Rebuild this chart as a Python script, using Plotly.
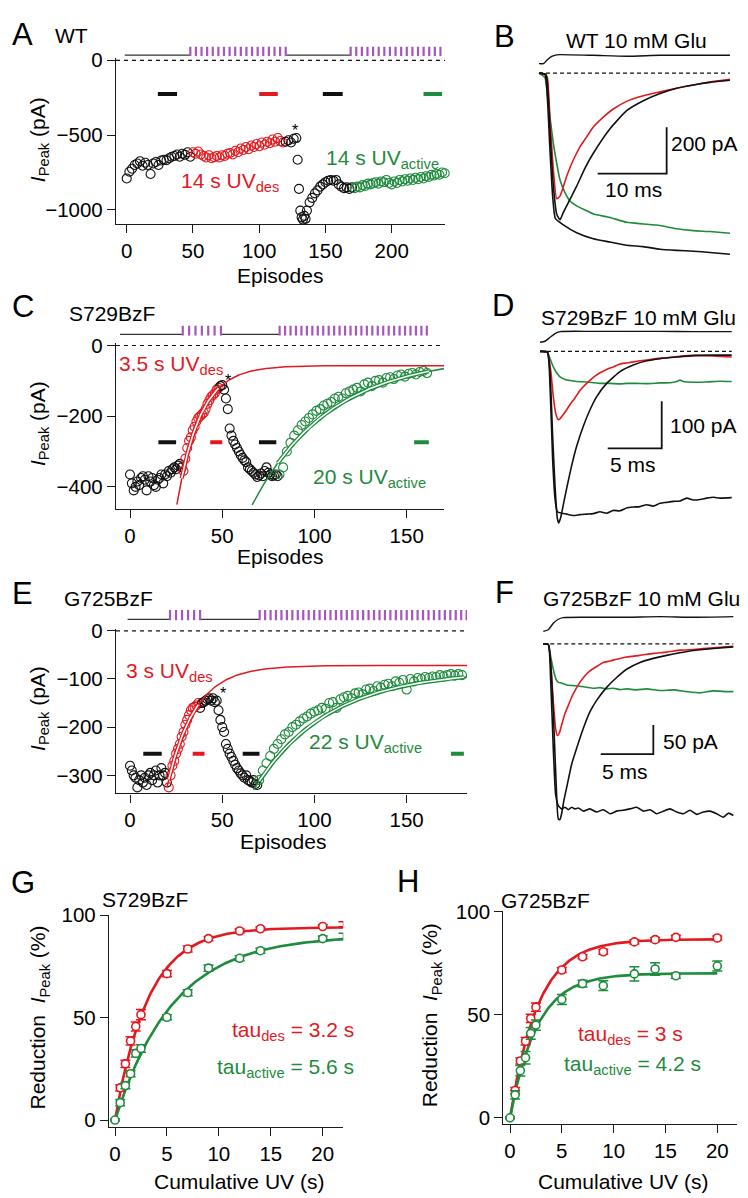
import numpy as np
import plotly.graph_objects as go

W, H = 748, 1198
FONT = "Liberation Sans, Arial, Helvetica, sans-serif"
RED = "#E3191F"
GREEN = "#1E8B3D"
PURPLE = "#A457BD"
BLK = "#111111"
AXC = "#1a1a1a"
COLMAP = {"k": BLK, "r": RED, "g": GREEN}

# ======================= DATA =======================
# ---- Panel A (WT): peak current per episode (pA)
a_black1_ep = list(range(0, 50, 2))
a_black1 = [-790, -745, -725, -700, -690, -675, -705, -685, -700, -760, -690, -680, -700,
            -670, -665, -668, -655, -645, -640, -630, -645, -625, -632, -615, -645]
a_red_ep = list(range(50, 120, 2))
a_red = [-615, -625, -610, -630, -640, -650, -635, -655, -648, -640,
         -650, -635, -640, -625, -620, -630, -605, -615, -590, -600,
         -580, -595, -570, -580, -560, -575, -550, -565, -545, -555,
         -530, -545, -520, -540, -550]
a_black2_ep = [120, 122, 124, 126, 128, 129, 130, 131, 132, 133, 134, 135, 136] + list(range(138, 172, 2))
a_black2 = [-545, -535, -550, -525, -520, -665, -860, -1005, -1050, -1065, -1040, -1060, -1005,
            -950, -920, -890, -870, -845, -830, -815, -805, -800, -805, -800, -830, -845, -855,
            -850, -860, -850]
a_green_ep = list(range(172, 242, 2))
a_green = [-855, -845, -850, -835, -840, -825, -830, -820, -815, -825,
           -810, -815, -800, -820, -830, -810, -820, -800, -810, -795,
           -805, -790, -800, -785, -795, -780, -790, -775, -780, -765,
           -770, -760, -765, -750, -755]
a_uv_start = -1.5
a_uv_blocks = [(48, 120, 18), (169, 241, 18)]
a_windows = [(23.5, 38, "k"), (100, 114, "r"), (148, 163, "k"), (224, 238, "g")]
a_window_level = -225

# ---- Panel C (S729BzF)
c_black1_ep = list(range(0, 29))
c_black1 = [-365, -390, -410, -400, -385, -395, -375, -370, -380, -410,
            -370, -385, -375, -395, -400, -380, -375, -365, -390, -365,
            -370, -355, -360, -350, -345, -350, -340, -335, -345]
c_red_ep = list(range(29, 49))
c_red = [-355, -320, -290, -270, -260, -240, -230, -215, -205, -200,
         -195, -190, -180, -165, -155, -145, -140, -135, -125, -120]
c_black2_ep = list(range(49, 81))
c_black2 = [-115, -112, -125, -150, -180, -235, -255, -270, -280, -290,
            -300, -310, -318, -325, -330, -345, -350, -355, -360, -365,
            -372, -368, -362, -370, -355, -345, -360, -365, -370, -368,
            -365, -370]
c_green_ep = list(range(81, 162, 2))
c_green = [-365, -345, -300, -275, -255, -240, -225, -215, -205, -195,
           -185, -180, -170, -165, -160, -150, -145, -150, -135, -130,
           -125, -120, -130, -110, -105, -115, -100, -98, -105, -92,
           -90, -95, -85, -82, -88, -80, -78, -82, -75, -72, -78]
c_uv_start = -5.4
c_uv_blocks = [(28.6, 49.3, 7), (81.1, 160.9, 28)]
c_windows = [(15.4, 25, "k"), (43.5, 50, "r"), (69.9, 79.3, "k"), (154, 162, "g")]
c_window_level = -274
# exponential fits: (x0, y0, plateau, tau, x_end, tube_from, tube_to)
c_fit_des = (25.4, -450, -57, 12.45, 171, 28, 48)
c_fit_act = (66.2, -451, -30, 42.0, 171, 80, 162)

# ---- Panel E (G725BzF)
e_black1_ep = list(range(0, 21))
e_black1 = [-280, -290, -300, -305, -325, -310, -300, -315, -305, -320,
            -300, -295, -310, -300, -290, -315, -300, -285, -300, -295, -315]
e_red_ep = list(range(21, 38))
e_red = [-325, -300, -280, -270, -255, -245, -235, -220, -210, -195,
         -185, -175, -165, -160, -158, -155, -150]
e_black2_ep = list(range(38, 70))
e_black2 = [-160, -150, -148, -145, -142, -140, -145, -140, -148, -145,
            -165, -185, -200, -210, -235, -245, -255, -262, -270, -278,
            -285, -290, -296, -300, -305, -300, -310, -312, -315, -310,
            -318, -320]
e_green_ep = list(range(70, 181, 2))
e_green = [-310, -290, -275, -260, -245, -235, -225, -215, -210, -200,
           -195, -188, -182, -178, -172, -168, -165, -160, -162, -150,
           -148, -160, -142, -138, -135, -140, -130, -128, -132, -122,
           -120, -125, -115, -118, -112, -110, -115, -105, -108, -102,
           -122, -100, -105, -98, -100, -96, -98, -95, -96, -92,
           -95, -92, -90, -93, -90, -92]
e_uv_start = -1.3
e_uv_blocks = [(21.7, 38, 6), (70.3, 182.5, 39)]
e_windows = [(7.2, 17.2, "k"), (34, 40.4, "r"), (61.1, 70.2, "k"), (174, 181, "g")]
e_window_level = -255
e_fit_des = (20, -325, -72, 15.0, 183, 21, 37)
e_fit_act = (67, -330, -82, 40.0, 183, 70, 181)

# ---- Panel B traces (WT), time in ms, current in pA
b_exch_t = [0, 0.63, 1.21, 1.84, 2.56, 3.04, 7.87, 12.7, 17.54, 22.37, 27.68]
b_exch = [41, 41, 58, 72, 79, 80, 77, 73, 77, 77, 77]
b_des_t = [0, 1.01, 1.35, 1.69, 2.08, 2.56, 3.04, 3.53, 4.49, 5.46, 6.67, 7.87, 10.29, 12.7,
           15.12, 17.54, 19.95, 22.37, 24.78, 27.68]
b_des = [0, -6, -105, -303, -488, -608, -633, -601, -545, -488, -410, -346, -240, -162,
         -119, -88, -65, -51, -40, -31]
b_non_t = [0, 0.87, 1.21, 1.59, 1.98, 2.37, 3.53, 5.46, 7.87, 10.29, 12.7, 15.12, 17.54,
           19.95, 22.37, 24.78, 27.68]
b_non = [0, -6, -105, -332, -531, -627, -655, -689, -715, -729, -743, -749, -760,
         -765, -769, -774, -782]
b_red_t = [0, 0.87, 1.21, 1.6, 2.08, 2.56, 3.04, 4.01, 4.98, 5.94, 6.91, 7.87, 9.32, 10.77,
           12.7, 15.12, 17.54, 19.95, 22.37, 24.78, 27.68]
b_red = [0, -6, -20, -204, -417, -542, -531, -445, -374, -318, -275, -233, -190, -155,
         -122, -98, -81, -65, -51, -38, -27]
b_grn_t = [0, 0.87, 1.21, 1.59, 2.08, 2.56, 3.04, 3.77, 4.49, 5.46, 6.91, 7.87, 10.29, 12.7,
           15.12, 17.54, 19.95, 22.37, 24.78, 27.68]
b_grn = [0, -20, -91, -190, -303, -389, -460, -516, -552, -573, -594, -608, -623, -644,
         -651, -658, -672, -680, -684, -691]
b_scale = (18.5, -434, 10, 200)   # corner t, corner I, ms, pA

# ---- Panel D traces (S729BzF)
d_exch_t = [0, 0.46, 0.93, 1.39, 1.85, 4.94, 8.02, 11.11, 14.2, 17.75]
d_exch = [19.5, 21.6, 30, 38, 42, 42.6, 42.6, 42.6, 42, 42]
d_des_t = [0, 0.68, 0.93, 1.17, 1.39, 1.6, 1.73, 1.91, 2.16, 2.47, 2.93, 3.4, 4.01, 4.63,
           5.25, 6.17, 7.41, 8.64, 9.88, 11.11, 12.65, 14.2, 16.05, 17.75]
d_des = [0, -1.5, -47, -180, -285, -354, -365, -354, -326, -291, -243, -201, -159, -124,
         -96, -68, -43, -29, -20, -15.5, -12, -9, -8, -8]
d_non_t = [0, 0.68, 0.93, 1.17, 1.39, 1.6, 2.01, 2.47, 3.09, 3.7, 4.32, 4.94, 5.56, 6.17,
           6.79, 7.41, 8.02, 8.64, 9.26, 9.88, 10.49, 11.11, 11.73, 12.35, 12.96, 13.58,
           14.2, 14.81, 15.43, 16.05, 16.67, 17.75]
d_non = [0, -1.5, -75, -229, -313, -341, -344, -346, -349, -347, -346, -345, -341, -344,
         -338, -339, -333, -331, -330, -326, -329, -323, -321, -319, -318, -312,
         -316, -315, -312, -310, -312, -311]
d_red_t = [0, 0.68, 0.99, 1.23, 1.48, 1.7, 1.85, 2.16, 2.47, 2.78, 3.24, 3.7, 4.32, 4.94,
           5.56, 6.17, 6.79, 7.41, 8.02, 9.26, 10.49, 11.73, 12.96, 14.2, 15.43, 16.67, 17.75]
d_red = [0, -1.5, -40, -96, -134, -145, -143.5, -134, -124, -113, -99, -83, -68, -55,
         -45.5, -38.5, -33, -27, -24.5, -20, -16, -13.4, -10.5, -8.5, -9, -10.5, -12]
d_grn_t = [0, 0.68, 0.93, 1.23, 1.54, 1.85, 2.32, 2.78, 3.4, 4.32, 4.94, 5.56, 6.48, 7.41,
           8.02, 8.95, 9.88, 11.11, 12.04, 12.65, 12.96, 13.27, 14.2, 15.43, 16.67, 17.75]
d_grn = [0, -1.5, -15.5, -33, -45.5, -54, -59.5, -62, -64, -65, -66.5, -68, -68, -69,
         -68, -68, -68.5, -67, -66.5, -64, -61, -64, -65.5, -65, -63.5, -64]
d_scale = (11.27, -206, 5, 100)

# ---- Panel F traces (G725BzF)
f_exch_t = [0, 0.475, 0.95, 1.43, 1.9, 4.75, 7.92, 11.09, 14.26, 18.06]
f_exch = [21.5, 24.4, 35.7, 42.5, 45.3, 45.9, 45.9, 47, 45.9, 47]
f_des_t = [0, 0.475, 0.697, 0.95, 1.2, 1.43, 1.58, 1.74, 1.96, 2.22, 2.69, 3.17, 3.8, 4.44,
           5.07, 6.02, 6.97, 7.92, 9.19, 10.46, 11.72, 12.99, 14.26, 16.16, 18.06]
f_des = [0, -1, -32, -117, -231, -302, -303, -293, -270, -248, -208, -180, -146, -117,
         -97.5, -75, -58, -43.7, -32, -25, -19.8, -15.3, -11.3, -7.9, -5.1]
f_non_t = [0, 0.475, 0.697, 0.95, 1.17, 1.43, 1.74, 2.06, 2.38, 2.69, 3.01, 3.33, 3.8, 4.44,
           5.07, 5.7, 6.34, 6.97, 7.6, 8.24, 8.87, 9.51, 10.14, 10.78, 11.41, 12.04, 12.68,
           13.31, 13.94, 14.58, 15.21, 15.84, 16.48, 17.11, 17.59, 18.06]
f_non = [0, -1, -60.7, -180, -259, -279, -284.6, -281.7, -286, -281.7, -284.6, -283, -288.5,
         -284.6, -290, -286, -293, -288.5, -287, -284.6, -281.7, -288.5, -286, -293, -288.5,
         -284.6, -290, -293, -287, -294, -290, -288.5, -293, -299, -292, -296]
f_red_t = [0, 0.475, 0.697, 0.95, 1.17, 1.33, 1.52, 1.74, 2.06, 2.38, 2.69, 3.01, 3.49, 3.96,
           4.44, 5.07, 5.7, 6.34, 6.97, 7.92, 9.19, 10.46, 11.72, 12.99, 14.26, 16.16, 18.06]
f_red = [0, -1, -32, -100, -146, -158, -154, -140, -120, -106, -92, -80.5, -66, -55,
         -46.5, -39, -32, -29.5, -26.6, -22.7, -19.8, -16.4, -14.2, -10.8, -9.6, -6.8, -4]
f_grn_t = [0, 0.475, 0.697, 0.95, 1.2, 1.43, 1.74, 2.22, 2.85, 3.49, 4.12, 4.75, 5.39, 6.02,
           6.65, 7.29, 7.92, 8.87, 9.82, 11.09, 12.36, 13.63, 14.89, 16.16, 17.43, 18.06]
f_grn = [0, -1, -21, -43.7, -60.7, -66.3, -67.5, -70.9, -72, -73, -74.8, -76.5, -75.4,
         -77.6, -76.5, -78.8, -77.6, -79.3, -77.6, -80.5, -79.3, -82.3, -84.5, -81, -82.3, -82.3]
f_scale = (10.46, -190, 5, 50)

# ---- Panel G (S729BzF) reduction of I_peak vs cumulative UV
g_red_x = [0.5, 1, 1.5, 2, 2.5, 5, 7, 9, 12, 14, 20, 22]
g_red = [15.7, 27.4, 38.6, 45.6, 51.4, 71.4, 83.4, 88.5, 92.2, 93.3, 94.4, 95.5]
g_red_err = [1.5, 1.8, 2.0, 2.2, 2.5, 1.5, 1.5, 1.0, 1.0, 0.8, 0.8, 1.2]
g_grn_x = [0, 0.5, 1, 1.5, 2, 2.5, 5, 7, 9, 12, 14, 20, 22]
g_grn = [0, 8.5, 16.8, 22.6, 32.5, 34.9, 50.1, 62.1, 74.1, 78.9, 82.6, 88.5, 89.6]
g_grn_err = [0.5, 1.5, 1.5, 1.5, 1.8, 1.8, 1.2, 1.5, 1.5, 1.2, 1.2, 1.2, 1.5]
g_fit_red = (94.0, 3.2, 22)
g_fit_grn = (90.0, 5.6, 22)

# ---- Panel H (G725BzF)
h_red_x = [0.5, 1, 1.5, 2, 2.5, 5, 7, 9, 12, 14, 16, 20]
h_red = [13.2, 27.5, 37.1, 48.1, 53.6, 71.6, 78.0, 80.4, 85.2, 86.3, 87.4, 87.1]
h_red_err = [1.5, 1.5, 1.8, 2.0, 2.0, 1.2, 1.0, 1.2, 1.0, 1.0, 1.0, 1.0]
h_grn_x = [0, 0.5, 1, 1.5, 2, 2.5, 5, 7, 9, 12, 14, 16, 20]
h_grn = [0, 11.1, 22.8, 29.1, 40.9, 44.9, 57.3, 65.0, 64.0, 69.7, 72.1, 68.8, 73.5]
h_grn_err = [0.5, 2.0, 2.5, 3.0, 2.8, 2.5, 2.4, 1.6, 2.4, 3.5, 3.0, 1.2, 2.4]
h_fit_red = (86.5, 2.7, 20)
h_fit_grn = (70.0, 2.6, 20)

for a, b in [(a_black1_ep, a_black1), (a_red_ep, a_red), (a_black2_ep, a_black2), (a_green_ep, a_green),
             (c_black1_ep, c_black1), (c_red_ep, c_red), (c_black2_ep, c_black2), (c_green_ep, c_green),
             (e_black1_ep, e_black1), (e_red_ep, e_red), (e_black2_ep, e_black2), (e_green_ep, e_green),
             (b_exch_t, b_exch), (b_des_t, b_des), (b_non_t, b_non), (b_red_t, b_red), (b_grn_t, b_grn),
             (d_exch_t, d_exch), (d_des_t, d_des), (d_non_t, d_non), (d_red_t, d_red), (d_grn_t, d_grn),
             (f_exch_t, f_exch), (f_des_t, f_des), (f_non_t, f_non), (f_red_t, f_red), (f_grn_t, f_grn),
             (g_red_x, g_red), (g_grn_x, g_grn), (h_red_x, h_red), (h_grn_x, h_grn)]:
    assert len(a) == len(b), (len(a), len(b))

# ======================= FIGURE =======================
def fx(x):
    return x / W


def fy(y):
    return 1 - y / H


def axn(n, l):
    return l + ("" if n == 1 else str(n))


def tick_text(v):
    s = f"{abs(v):g}"
    return ("\u2212" + s) if v < 0 else s


fig = go.Figure()
layout_axes = {}


def main_axes(n, xdom, ydom, xr, yr, xt, yt):
    common = dict(showline=True, linecolor=AXC, linewidth=1.3, ticks="outside", ticklen=8,
                  tickwidth=1.3, tickcolor=AXC, showgrid=False, zeroline=False,
                  tickfont=dict(size=20.5, family=FONT, color="black"), fixedrange=True)
    layout_axes[axn(n, "xaxis")] = dict(common, domain=[fx(xdom[0]), fx(xdom[1])], range=xr,
                                        tickvals=xt, ticktext=[tick_text(v) for v in xt],
                                        anchor=axn(n, "y"))
    layout_axes[axn(n, "yaxis")] = dict(common, domain=[fy(ydom[1]), fy(ydom[0])], range=yr,
                                        tickvals=yt, ticktext=[tick_text(v) for v in yt],
                                        anchor=axn(n, "x"))


def hidden_axes(n, xdom, ydom, xr, yr):
    layout_axes[axn(n, "xaxis")] = dict(domain=[fx(xdom[0]), fx(xdom[1])], range=xr, visible=False,
                                        fixedrange=True, anchor=axn(n, "y"))
    layout_axes[axn(n, "yaxis")] = dict(domain=[fy(ydom[1]), fy(ydom[0])], range=yr, visible=False,
                                        fixedrange=True, anchor=axn(n, "x"))


def sc(n, x, y, **kw):
    fig.add_trace(go.Scatter(x=x, y=y, xaxis=axn(n, "x"), yaxis=axn(n, "y"),
                             showlegend=False, hoverinfo="skip", **kw))


def exp_rise(x, x0, y0, plateau, tau):
    x = np.asarray(x, dtype=float)
    return plateau + (y0 - plateau) * np.exp(-(x - x0) / tau)


UVB = 0.12


def episode_panel(n, nuv, xr, segments, uv_start, uv_blocks, windows, level, fits):
    sc(n, [xr[0], xr[1]], [0, 0], mode="lines", line=dict(color=BLK, width=1.2, dash="4px,4px"))
    for w0, w1, c in windows:
        sc(n, [w0, w1], [level, level], mode="lines", line=dict(color=COLMAP[c], width=4))
    for ep, vals, c in segments:
        sc(n, ep, vals, mode="markers", cliponaxis=False,
           marker=dict(symbol="circle-open", size=9, color=COLMAP[c],
                       line=dict(width=1.1, color=COLMAP[c])))
    for (x0, y0, P, tau, xe, t0, t1), c in fits:
        xs = np.linspace(x0, xe, 300)
        sc(n, xs, exp_rise(xs, x0, y0, P, tau), mode="lines", line=dict(color=COLMAP[c], width=1.5))
        xt = np.linspace(t0, t1, 200)
        yt = exp_rise(xt, x0, y0, P, tau)
        sc(n, xt, yt, mode="lines", line=dict(color=COLMAP[c], width=4.2))
        sc(n, xt, yt, mode="lines", line=dict(color="white", width=1.6))
    # UV protocol bar
    bx, by = [], []
    prev = uv_start
    for b0, b1, cnt in uv_blocks:
        bx += [prev, b0, None]
        by += [UVB, UVB, None]
        prev = b1
    sc(nuv, bx, by, mode="lines", line=dict(color="#333333", width=1.3))
    tx, ty = [], []
    for b0, b1, cnt in uv_blocks:
        for v in np.linspace(b0, b1, cnt):
            tx += [v, v, None]
            ty += [0, 1, None]
    sc(nuv, tx, ty, mode="lines", line=dict(color=PURPLE, width=2.2))


def trace_panel(n, exch_t, exch, traces, scale):
    t_end = max(exch_t)
    sc(n, [0, t_end], [0, 0], mode="lines", line=dict(color=BLK, width=1.2, dash="4px,3px"))
    sc(n, exch_t, exch, mode="lines", line=dict(color=BLK, width=1.4, shape="spline", smoothing=0.6))
    for t, i, c in traces:
        sc(n, t, i, mode="lines", line=dict(color=COLMAP[c], width=1.6, shape="spline", smoothing=0.5))
    tc, ic, dt, di = scale
    sc(n, [tc - dt, tc, tc], [ic, ic, ic + di], mode="lines", line=dict(color=BLK, width=1.8))


def dose_panel(n, sets):
    for (x, y, err, (amp, tau, xe)), c in sets:
        xs = np.linspace(0, xe, 200)
        sc(n, xs, amp * (1 - np.exp(-xs / tau)), mode="lines", line=dict(color=COLMAP[c], width=2.6))
    for (x, y, err, fit), c in sets:
        sc(n, x, y, mode="markers", cliponaxis=False,
           error_y=dict(type="data", array=err, color=COLMAP[c], thickness=1.5, width=5),
           marker=dict(symbol="circle", size=8, color="white", line=dict(width=1.6, color=COLMAP[c])))


# ---- axes
main_axes(1, (116, 445), (47, 215), [-8.08, 240.2], [-1094.3, 13.2], [0, 50, 100, 150, 200], [0, -500, -1000])
hidden_axes(2, (116, 445), (35, 45), [-8.08, 240.2], [0, 1])
hidden_axes(3, (530, 745), (30, 255), [-1.304, 29.855], [-821.3, 136.2])
main_axes(4, (116, 444), (336, 504), [-7.59, 170.2], [-462.2, 6.4], [0, 50, 100, 150], [0, -200, -400])
hidden_axes(5, (116, 444), (318, 328.3), [-7.59, 170.2], [0, 1])
hidden_axes(6, (530, 745), (315, 530), [-0.926, 18.981], [-389.3, 61.4])
main_axes(7, (116, 467), (625.5, 792.7), [-7.59, 182.7], [-337.6, 4.5], [0, 50, 100, 150], [0, -100, -200, -300])
hidden_axes(8, (116, 467), (606.7, 617.3), [-7.59, 182.7], [0, 1])
hidden_axes(9, (530, 745), (600, 825), [-1.264, 19.173], [-312.9, 69.7])
main_axes(10, (109, 343.3), (916, 1131), [-0.578, 21.98], [-3.36, 100], [0, 5, 10, 15, 20], [0, 50, 100])
main_axes(11, (503.3, 737.3), (912.3, 1128.3), [-0.646, 21.93], [-3.15, 100], [0, 5, 10, 15, 20], [0, 50, 100])

# ---- panels
episode_panel(1, 2, [-8.08, 240.2],
              [(a_black1_ep, a_black1, "k"), (a_red_ep, a_red, "r"), (a_black2_ep, a_black2, "k"),
               (a_green_ep, a_green, "g")],
              a_uv_start, a_uv_blocks, a_windows, a_window_level, [])
episode_panel(4, 5, [-7.59, 170.2],
              [(c_black1_ep, c_black1, "k"), (c_red_ep, c_red, "r"), (c_black2_ep, c_black2, "k"),
               (c_green_ep, c_green, "g")],
              c_uv_start, c_uv_blocks, c_windows, c_window_level,
              [(c_fit_des, "r"), (c_fit_act, "g")])
episode_panel(7, 8, [-7.59, 182.7],
              [(e_black1_ep, e_black1, "k"), (e_red_ep, e_red, "r"), (e_black2_ep, e_black2, "k"),
               (e_green_ep, e_green, "g")],
              e_uv_start, e_uv_blocks, e_windows, e_window_level,
              [(e_fit_des, "r"), (e_fit_act, "g")])

trace_panel(3, b_exch_t, b_exch,
            [(b_grn_t, b_grn, "g"), (b_red_t, b_red, "r"), (b_des_t, b_des, "k"), (b_non_t, b_non, "k")],
            b_scale)
trace_panel(6, d_exch_t, d_exch,
            [(d_grn_t, d_grn, "g"), (d_red_t, d_red, "r"), (d_des_t, d_des, "k"), (d_non_t, d_non, "k")],
            d_scale)
trace_panel(9, f_exch_t, f_exch,
            [(f_grn_t, f_grn, "g"), (f_red_t, f_red, "r"), (f_des_t, f_des, "k"), (f_non_t, f_non, "k")],
            f_scale)

dose_panel(10, [((g_red_x, g_red, g_red_err, g_fit_red), "r"), ((g_grn_x, g_grn, g_grn_err, g_fit_grn), "g")])
dose_panel(11, [((h_red_x, h_red, h_red_err, h_fit_red), "r"), ((h_grn_x, h_grn, h_grn_err, h_fit_grn), "g")])

# ---- text
anns = []


def ann(text, x, y, size=21, color="black", xa="center", ya="middle", angle=0):
    anns.append(dict(text=text, x=fx(x), y=fy(y), xref="paper", yref="paper", showarrow=False,
                     xanchor=xa, yanchor=ya, textangle=angle, borderpad=0,
                     font=dict(size=size, color=color, family=FONT)))


for letter, x, y in [("A", 22.5, 23), ("B", 504, 25), ("C", 22.5, 298.5), ("D", 503, 298),
                     ("E", 22.5, 590), ("F", 504, 589), ("G", 22.5, 883.5), ("H", 408, 882.5)]:
    ann(letter, x, y, size=31)

ann("WT", 71.5, 23.5)
ann("S729BzF", 111.5, 306)
ann("G725BzF", 108.5, 595)
ann("S729BzF", 145, 900)
ann("G725BzF", 545.7, 901)

ylab = "<i>I</i><sub>Peak</sub> (pA)"
ann(ylab, 39, 130, angle=-90)
ann(ylab, 39, 418, angle=-90)
ann(ylab, 39, 707, angle=-90)
ann("Reduction\u00a0\u00a0<i>I</i><sub>Peak</sub> (%)", 39, 1020, angle=-90)
ann("Reduction\u00a0\u00a0<i>I</i><sub>Peak</sub> (%)", 430.7, 1018, angle=-90)

ann("Episodes", 280, 255, ya="top")
ann("Episodes", 280, 540, ya="top")
ann("Episodes", 283, 829, ya="top")
ann("Cumulative UV (s)", 239, 1174, ya="top")
ann("Cumulative UV (s)", 622.5, 1174, ya="top")

ann("14 s UV<sub>des</sub>", 180, 172, color=RED, xa="left")
ann("14 s UV<sub>active</sub>", 325, 149, color=GREEN, xa="left")
ann("3.5 s UV<sub>des</sub>", 118, 358, color=RED, xa="left")
ann("20 s UV<sub>active</sub>", 312, 473, color=GREEN, xa="left")
ann("3 s UV<sub>des</sub>", 125, 670, color=RED, xa="left")
ann("22 s UV<sub>active</sub>", 308, 742, color=GREEN, xa="left")

for x, y in [(295, 120), (227.7, 374), (222.7, 691)]:
    ann("*", x, y, size=16)

ann("WT 10 mM Glu", 636.5, 28.5)
ann("S729BzF 10 mM Glu", 638, 310)
ann("G725BzF 10 mM Glu", 641, 595)

ann("200 pA", 670, 133.5, xa="left")
ann("10 ms", 633, 180)
ann("100 pA", 669, 419.5, xa="left")
ann("5 ms", 632.5, 459)
ann("50 pA", 662, 739.5, xa="left")
ann("5 ms", 625, 770)

ann("tau<sub>des</sub> = 3.2 s", 355, 1034, color=RED, xa="right")
ann("tau<sub>active</sub> = 5.6 s", 355, 1071, color=GREEN, xa="right")
ann("tau<sub>des</sub> = 3 s", 630.7, 1038, color=RED)
ann("tau<sub>active</sub> = 4.2 s", 632, 1068, color=GREEN)

fig.update_layout(width=W, height=H, margin=dict(l=0, r=0, t=0, b=0, pad=0),
                  paper_bgcolor="white", plot_bgcolor="white", showlegend=False,
                  font=dict(family=FONT, color="black"), annotations=anns, **layout_axes)

fig.write_html("out.html", config={"displayModeBar": False},
               post_script="document.body.style.margin='0px';")
